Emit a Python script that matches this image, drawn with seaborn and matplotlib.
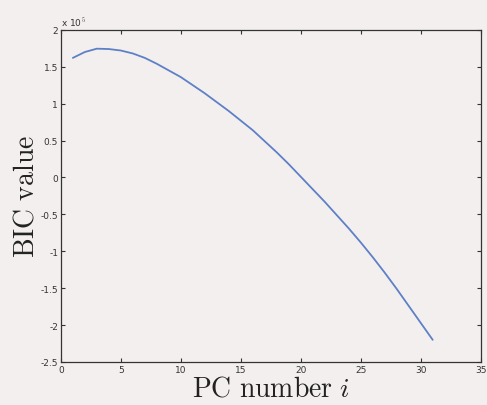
import numpy as np
import pandas as pd
import matplotlib
matplotlib.use("Agg")
import matplotlib.pyplot as plt
import seaborn as sns

pc_number = list(range(1, 32))
bic_value = [1.62, 1.70, 1.745, 1.74, 1.72, 1.68, 1.62, 1.54, 1.45, 1.36,
             1.25, 1.14, 1.02, 0.90, 0.77, 0.64, 0.49, 0.34, 0.18, 0.01,
             -0.16, -0.33, -0.51, -0.69, -0.88, -1.08, -1.29, -1.51, -1.74, -1.97,
             -2.20]
bic_value = [v * 1e5 for v in bic_value]
x_ticks = [0, 5, 10, 15, 20, 25, 30, 35]
y_ticks = [-2.5, -2, -1.5, -1, -0.5, 0, 0.5, 1, 1.5, 2]

df = pd.DataFrame({"pc": pc_number, "bic": bic_value})

sns.set_theme(style="ticks")
plt.rcParams["font.family"] = ["DejaVu Sans"]
plt.rcParams["mathtext.fontset"] = "cm"

bg = "#f4efef"
fig = plt.figure(figsize=(4.87, 4.06), dpi=100, facecolor=bg)
ax = fig.add_axes([0.125, 0.106, 0.862, 0.818])
ax.set_facecolor(bg)

sns.lineplot(data=df, x="pc", y="bic", ax=ax, color="#5d80c6", linewidth=1.3)

ax.set_xlim(0, 35)
ax.set_ylim(-2.5e5, 2e5)
ax.set_xticks(x_ticks)
ax.set_xticklabels([str(t) for t in x_ticks])
ax.set_yticks([t * 1e5 for t in y_ticks])
ax.set_yticklabels(["%g" % t for t in y_ticks])
ax.tick_params(direction="in", top=True, right=True, labelsize=6.5,
               length=3, width=0.8, colors="#333333", pad=2)
for s in ax.spines.values():
    s.set_color("#333333")
    s.set_linewidth(0.9)

ax.text(0.0, 1.005, r"x 10$^5$", transform=ax.transAxes, fontsize=6.5,
        color="#333333", ha="left", va="bottom")

ax.set_xlabel(r"$\mathrm{PC\ number}\ i$", fontsize=20, color="#222222", labelpad=0)
ax.set_ylabel(r"$\mathrm{BIC\ value}$", fontsize=20, color="#222222", labelpad=1)

fig.savefig("out.png", dpi=100, facecolor=bg)
